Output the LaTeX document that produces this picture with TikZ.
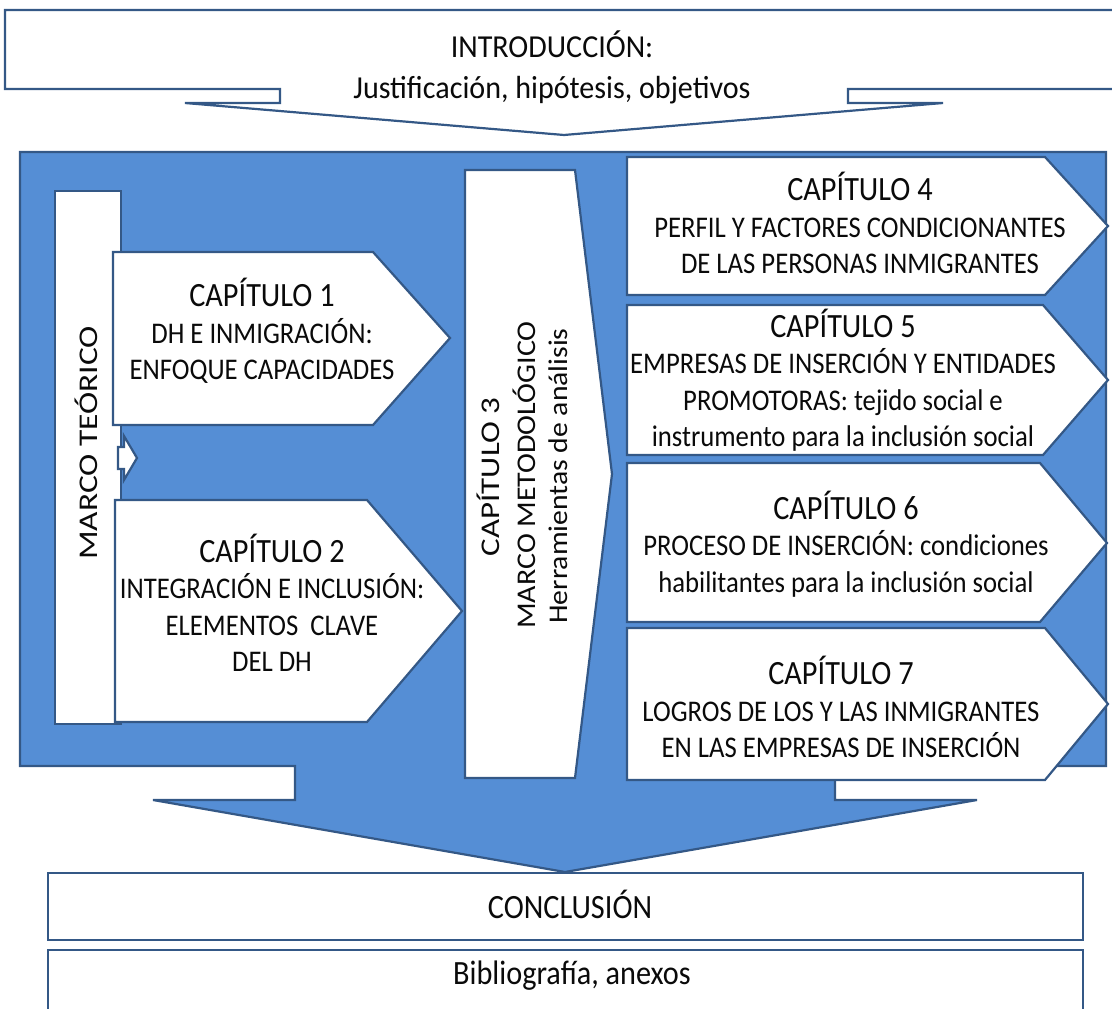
\documentclass[tikz,border=0pt]{standalone}
\usepackage{fontspec}
\setmainfont{Carlito}
\newfontfamily\narrowfont[FakeStretch=0.89]{Carlito}
\newfontfamily\introfont[FakeStretch=0.94]{Carlito}
\newfontfamily\sidefont[FakeStretch=1.22]{Carlito}
\newfontfamily\sidefontb[FakeStretch=1.24]{Carlito}
\newfontfamily\sidefontc[FakeStretch=1.11]{Carlito}
\newfontfamily\sidefontd[FakeStretch=1.10]{Carlito}
\newcommand{\headline}[1]{{\narrowfont\fontsize{34}{36.5}\selectfont #1}}
\definecolor{panelblue}{RGB}{85,142,213}
\definecolor{edgeblue}{RGB}{52,88,134}
\definecolor{ink}{RGB}{10,10,10}
\begin{document}
\begin{tikzpicture}[x=1pt,y=-1pt,
  shapeline/.style={draw=edgeblue,line width=2.2pt,line join=miter},
  whitebox/.style={shapeline,fill=white},
  bluebox/.style={shapeline,fill=panelblue},
  bodytext/.style={text=ink,align=center,inner sep=0pt,
    font=\narrowfont\fontsize{30}{36.5}\selectfont},
  bigtext/.style={text=ink,align=center,inner sep=0pt,
    font=\narrowfont\fontsize{34}{36.5}\selectfont},
  introtext/.style={text=ink,align=center,inner sep=0pt,
    font=\introfont\fontsize{32}{41}\selectfont},
  sidetext/.style={text=ink,inner sep=0pt,rotate=90,
    font=\sidefont\fontsize{27}{33}\selectfont}]
\useasboundingbox (0,0) rectangle (1112,1009);
\clip (0,0) rectangle (1112,1009);

% introduction callout pointing down
\draw[whitebox] (5,10) -- (1130,10) -- (1130,89) -- (848,89) -- (848,103)
  -- (943,103) -- (564,135) -- (185,103) -- (280,103) -- (280,89)
  -- (5,89) -- cycle;
\node[introtext] (intro) at (552,67.5)
  {INTRODUCCIÓN:\\Justificación, hipótesis, objetivos};

% blue body callout pointing down to the conclusion
\draw[bluebox] (20,152) -- (1106,152) -- (1106,766) -- (835,766) -- (835,800)
  -- (977,800) -- (565,872) -- (153,800) -- (295,800) -- (295,766)
  -- (20,766) -- cycle;

% theoretical framework column
\draw[whitebox] (55,191) rectangle (121,724);
\node[sidetext,font=\sidefontb\fontsize{27}{33}\selectfont] (marco) at (86,443) {MARCO TEÓRICO};

% chapter 1 and chapter 2 arrows
\draw[whitebox] (113,252) -- (373,252) -- (450,338) -- (373,425) -- (113,425) -- cycle;
\node[bodytext] (cap1) at (262,331)
  {\headline{CAPÍTULO 1}\\DH E INMIGRACIÓN:\\ENFOQUE CAPACIDADES};
\draw[whitebox] (115,500) -- (367,500) -- (462,611) -- (367,722) -- (115,722) -- cycle;
\node[bodytext] (cap2) at (272,603)
  {\headline{CAPÍTULO 2}\\INTEGRACIÓN E INCLUSIÓN:\\ELEMENTOS\ \ CLAVE\\DEL DH};

% small connecting arrow between the two chapters
\draw[whitebox] (118,447) -- (124,447) -- (124,436) -- (137,458) -- (124,480)
  -- (124,469) -- (118,469) -- cycle;

% chapter 3: methodological framework
\draw[whitebox] (465,170) -- (575,170) -- (612,474) -- (575,778) -- (465,778) -- cycle;
\node[sidetext] (cap3a) at (488,477) {CAPÍTULO 3};
\node[sidetext,font=\sidefontc\fontsize{27}{33}\selectfont] (cap3b) at (524,475) {MARCO METODOLÓGICO};
\node[sidetext,font=\sidefontd\fontsize{27}{33}\selectfont] (cap3c) at (558,476) {Herramientas de análisis};

% chapters 4 to 7
\draw[whitebox] (627,157) -- (1045,157) -- (1108,226) -- (1045,295) -- (627,295) -- cycle;
\node[bodytext] (cap4) at (860,223)
  {\headline{CAPÍTULO 4}\\PERFIL Y FACTORES CONDICIONANTES\\DE LAS PERSONAS INMIGRANTES};
\draw[whitebox] (627,305) -- (1043,305) -- (1108,380) -- (1043,455) -- (627,455) -- cycle;
\node[bodytext] (cap5) at (843,380)
  {\headline{CAPÍTULO 5}\\EMPRESAS DE INSERCIÓN Y ENTIDADES\\PROMOTORAS: tejido social e\\instrumento para la inclusión social};
\draw[whitebox] (627,463) -- (1040,463) -- (1107,543) -- (1040,622) -- (627,622) -- cycle;
\node[bodytext] (cap6) at (846,544)
  {\headline{CAPÍTULO 6}\\PROCESO DE INSERCIÓN: condiciones\\habilitantes para la inclusión social};
\draw[whitebox] (627,628) -- (1045,628) -- (1108,704) -- (1045,780) -- (627,780) -- cycle;
\node[bodytext] (cap7) at (841,707)
  {\headline{CAPÍTULO 7}\\LOGROS DE LOS Y LAS INMIGRANTES\\EN LAS EMPRESAS DE INSERCIÓN};

% closing sections
\draw[whitebox] (48,873) rectangle (1083,940);
\node[bigtext] (concl) at (570,904) {CONCLUSIÓN};
\draw[whitebox] (48,950) rectangle (1083,1030);
\node[bigtext] (biblio) at (572,976) {Bibliografía, anexos};
\end{tikzpicture}
\end{document}
